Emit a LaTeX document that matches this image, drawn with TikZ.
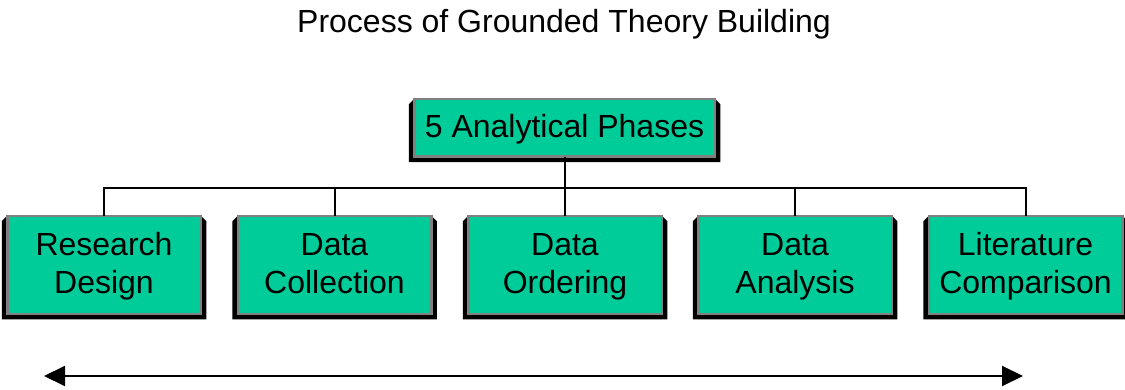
\documentclass[tikz,border=0pt]{standalone}
\usepackage{fontspec}
\setmainfont{Liberation Sans}
\usetikzlibrary{arrows.meta,calc,backgrounds}

\definecolor{phasegreen}{HTML}{00CC99}
\definecolor{rimgray}{HTML}{808080}

\tikzset{
  phasebox/.style={draw=rimgray, fill=phasegreen, line width=2.5pt,
    inner sep=0pt, outer sep=0pt, align=center,
    font=\fontsize{32}{38}\selectfont},
  lowbox/.style={phasebox, minimum width=193.5pt, minimum height=97.5pt,
    text height=62pt, text depth=4pt},
  wire/.style={draw=black, line width=2pt},
  timeline/.style={draw=black, line width=2pt,
    {Triangle[length=21pt,width=20pt]}-{Triangle[length=21pt,width=20pt]}},
  % dark frame under each box, cut off at its two upper corners
  darkframe/.style={fill=black}
}

% dark frame behind a box node
\newcommand{\phaseframe}[1]{%
  \fill[darkframe] ($(#1.north west)+(-5.5,5)$) -- ($(#1.north west)+(0,-0.5)$)
    -- ($(#1.north east)+(0,-0.5)$) -- ($(#1.north east)+(5.5,5)$)
    -- ($(#1.south east)+(5.5,5.5)$) -- ($(#1.south west)+(-5.5,5.5)$) -- cycle;}

\begin{document}
\begin{tikzpicture}[x=1pt,y=-1pt]
  \useasboundingbox (0,0) rectangle (1125,390);

  % title
  \node[anchor=base, font=\fontsize{32}{38}\selectfont] (title) at (564,33)
    {Process of Grounded Theory Building};

  % root box
  \node[phasebox, minimum width=300.5pt, minimum height=57.5pt,
        text height=24pt, text depth=4pt] (root) at (564.5,128)
    {5 Analytical Phases};

  % the five phases
  \node[lowbox] (p1) at (104,265)   {Research\\Design};
  \node[lowbox] (p2) at (334.5,265) {Data\\Collection};
  \node[lowbox] (p3) at (565,265)   {Data\\Ordering};
  \node[lowbox] (p4) at (795,265)   {Data\\Analysis};
  \node[lowbox] (p5) at (1025.5,265){Literature\\Comparison};

  \begin{scope}[on background layer]
    \foreach \n in {root,p1,p2,p3,p4,p5} {\phaseframe{\n}}
  \end{scope}

  % tree connectors
  \coordinate (bus) at (0,188);
  \draw[wire] (root.south) -- (root.south |- bus);
  \draw[wire] (p1.north) -- (p1.north |- bus) -- (p5.north |- bus) -- (p5.north);
  \foreach \n in {p2,p3,p4} {\draw[wire] (\n.north) -- (\n.north |- bus);}

  % two-way process arrow
  \coordinate (startpt) at (44,376);
  \coordinate (endpt) at (1023,376);
  \draw[timeline] (startpt) -- (endpt);
\end{tikzpicture}
\end{document}
